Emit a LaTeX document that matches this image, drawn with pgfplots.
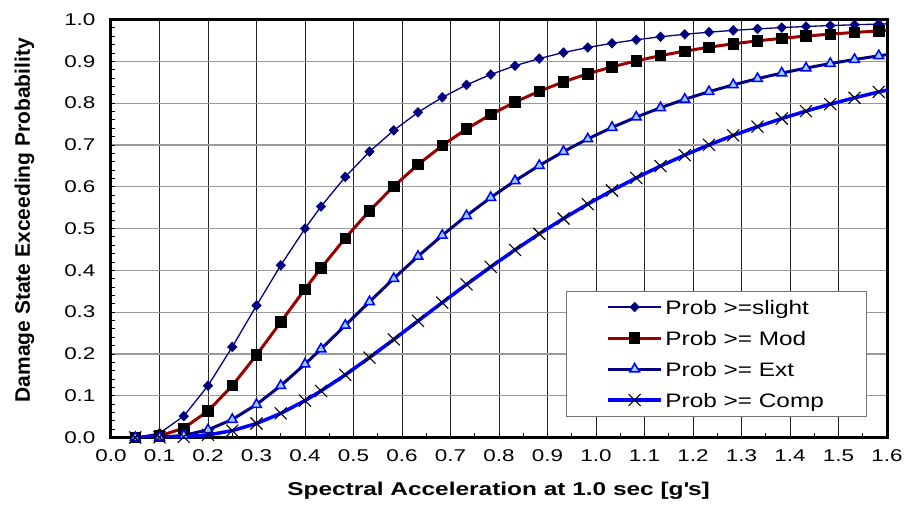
\documentclass[border=0pt]{standalone}
\usepackage{pgfplots}
\pgfplotsset{compat=1.18}
\usepackage{pgfplotstable}
\usepackage{fontspec}
\setmainfont{Liberation Sans}[FakeStretch=1.32]
\newfontfamily\plainsans{Liberation Sans}
\newfontfamily\legsans{Liberation Sans}[FakeStretch=1.25]

\definecolor{navy}{HTML}{000080}
\definecolor{maroon}{HTML}{990000}
\definecolor{ltblue}{HTML}{99CCFF}
\definecolor{pureblue}{HTML}{0000FF}

% damage state exceeding probability vs Sa(1.0s)
\pgfplotstableread{
x      slight  mod     ext     comp
0.05   0.0003  0.0001  0.0000  0.0000
0.10   0.0104  0.0037  0.0006  0.0001
0.15   0.0511  0.0224  0.0051  0.0014
0.20   0.1240  0.0634  0.0184  0.0061
0.25   0.2167  0.1240  0.0431  0.0164
0.30   0.3158  0.1973  0.0789  0.0335
0.35   0.4120  0.2761  0.1240  0.0577
0.40   0.5000  0.3550  0.1755  0.0883
0.433  0.5526  0.4053  0.2117  0.1114
0.483  0.6234  0.4770  0.2682  0.1498
0.533  0.6839  0.5425  0.3248  0.1913
0.583  0.7349  0.6010  0.3803  0.2346
0.633  0.7779  0.6528  0.4334  0.2788
0.683  0.8137  0.6984  0.4836  0.3228
0.733  0.8436  0.7381  0.5306  0.3662
0.783  0.8685  0.7726  0.5741  0.4083
0.833  0.8893  0.8025  0.6141  0.4488
0.883  0.9066  0.8284  0.6507  0.4874
0.933  0.9210  0.8507  0.6840  0.5239
0.983  0.9330  0.8701  0.7143  0.5585
1.033  0.9431  0.8867  0.7417  0.5909
1.083  0.9515  0.9011  0.7665  0.6212
1.133  0.9587  0.9136  0.7889  0.6494
1.183  0.9646  0.9244  0.8091  0.6757
1.233  0.9697  0.9337  0.8273  0.7001
1.283  0.9740  0.9419  0.8437  0.7227
1.333  0.9776  0.9489  0.8585  0.7437
1.383  0.9807  0.9550  0.8718  0.7631
1.433  0.9833  0.9604  0.8838  0.7809
1.483  0.9855  0.9650  0.8946  0.7974
1.533  0.9874  0.9691  0.9043  0.8127
1.583  0.9891  0.9726  0.9131  0.8267
}\fragdata
% line runs on past the last marker to the frame
\pgfplotstableread{
x      slight  mod     ext     comp
1.583  0.9891  0.9726  0.9131  0.8267
1.633  0.9905  0.9757  0.9210  0.8396
}\fragtail

\begin{document}
\begin{tikzpicture}
\begin{axis}[scale only axis,width=776pt,height=418pt,
xmin=0,xmax=1.6,ymin=0,ymax=1,
xtick={0,0.1,...,1.65},ytick={0,0.1,...,1.05},
minor x tick num=1,minor y tick num=4,
tick align=inside,tick pos=left,
major tick length=4.5pt,minor tick length=4.5pt,
tick style={black,line width=0.8pt},
axis line style={black,line width=3pt},
xmajorgrids=true,ymajorgrids=true,
x grid style={black!85,line width=0.7pt},
y grid style={black!40,line width=1.2pt},
/pgf/number format/assume math mode=true,
/pgf/number format/.cd,fixed,fixed zerofill,precision=1,/pgfplots/.cd,
tick label style={font=\fontsize{17}{20}\selectfont},
xticklabel style={yshift=-9pt},
yticklabel style={xshift=-12pt},
every axis x label/.style={at={(axis description cs:0.4994,-0.1376)},anchor=base},
every axis y label/.style={at={(axis description cs:-0.1044,0.52)},rotate=90,anchor=base},
xlabel={\bfseries\fontsize{18.5}{22}\selectfont Spectral Acceleration at 1.0 sec [g\textquotesingle s]},
ylabel={\plainsans\bfseries\fontsize{21}{25}\selectfont Damage State Exceeding Probability},
legend cell align=left,
legend style={at={(0.974,0.05)},anchor=south east,draw=black!55,line width=0.8pt,
  font=\legsans\fontsize{19.5}{24}\selectfont,inner xsep=40pt,inner ysep=3.5pt,
  nodes={inner xsep=2.5pt,inner ysep=3.5pt},row sep=5.7pt},
legend image code/.code={\draw[mark repeat=2,mark phase=2,#1] plot coordinates {(0pt,0pt)(26.5pt,0pt)(53pt,0pt)};}]

\addplot[forget plot,no marks,navy,line width=1.3pt] table[x=x,y=slight] {\fragtail};
\addplot[forget plot,no marks,maroon,line width=3pt] table[x=x,y=mod] {\fragtail};
\addplot[forget plot,no marks,navy,line width=3pt] table[x=x,y=ext] {\fragtail};
\addplot[forget plot,no marks,pureblue,line width=3.5pt] table[x=x,y=comp] {\fragtail};

\addplot[navy,line width=1.3pt,mark=diamond*,mark size=4.8pt,
  mark options={xscale=1.3,fill=navy,draw=navy,line width=0.6pt}] table[x=x,y=slight] {\fragdata};
\addplot[maroon,line width=3pt,mark=square*,mark size=5.2pt,
  mark options={fill=black,draw=black,line width=0.8pt}] table[x=x,y=mod] {\fragdata};
\addplot[navy,line width=3pt,mark=triangle*,mark size=5.6pt,
  mark options={fill=ltblue,draw=pureblue,line width=1.5pt}] table[x=x,y=ext] {\fragdata};
\addplot[pureblue,line width=3.5pt,mark=x,mark size=8.5pt,
  mark options={draw=black,line width=1.1pt}] table[x=x,y=comp] {\fragdata};

\legend{\strut Prob >=slight,\strut Prob >= Mod,\strut Prob >= Ext,\strut Prob >= Comp}
\end{axis}
\path (current axis.south west) ++(-111pt,-69.5pt);
\path (current axis.north east) ++(19pt,19.5pt);
\end{tikzpicture}
\end{document}
